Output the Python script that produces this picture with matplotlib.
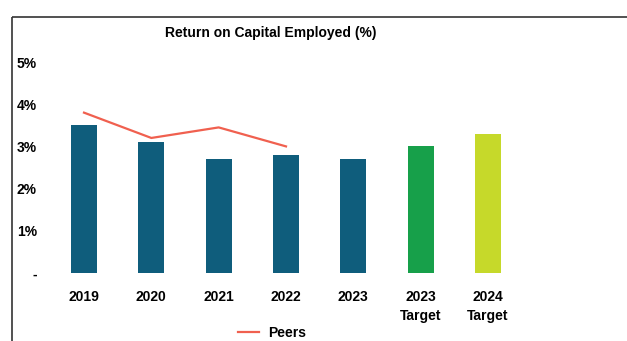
import matplotlib
matplotlib.use("Agg")
import matplotlib.pyplot as plt
from matplotlib.lines import Line2D

categories = ["2019", "2020", "2021", "2022", "2023", "2023\nTarget", "2024\nTarget"]
roce = [3.5, 3.1, 2.7, 2.8, 2.7, 3.0, 3.3]
peers = [3.8, 3.2, 3.45, 3.0]
bar_colors = ["#0f5d7c", "#0f5d7c", "#0f5d7c", "#0f5d7c", "#0f5d7c", "#17a04a", "#c6d92a"]
yticks = [0, 1, 2, 3, 4, 5]
ytick_labels = ["-", "1%", "2%", "3%", "4%", "5%"]

W, H, DPI = 627, 341, 100
plt.rcParams["font.family"] = ["Liberation Sans", "DejaVu Sans"]
plt.rcParams["font.weight"] = "bold"
FS = 10

fig = plt.figure(figsize=(W / DPI, H / DPI), dpi=DPI)
fig.patch.set_facecolor("white")

# plot area in pixels
left_px, right_px, bottom_px, top_px = 48, 522, 273, 50
ax = fig.add_axes([left_px / W, 1 - bottom_px / H,
                   (right_px - left_px) / W, (bottom_px - top_px) / H])

x = list(range(len(categories)))
ax.bar(x, roce, width=0.39, color=bar_colors, zorder=2)
ax.plot(range(len(peers)), peers, color="#f0604f", lw=1.6, zorder=3, label="Peers")

step = (488 - 84) / 6
ax.set_xlim(-(84 - left_px) / step, 6 + (right_px - 488) / step)
ax.set_ylim(0, (bottom_px - top_px) / 42.2)

ax.set_xticks(x)
ax.set_xticklabels(categories, fontsize=FS, fontweight="bold", linespacing=1.45)
ax.set_yticks(yticks)
ax.set_yticklabels(ytick_labels, fontsize=FS, fontweight="bold")
ax.tick_params(axis="x", length=0, pad=12)
ax.tick_params(axis="y", length=0, pad=8)
for s in ax.spines.values():
    s.set_visible(False)

fig.text(271 / W, 1 - 33 / H, "Return on Capital Employed (%)",
         ha="center", va="center", fontsize=FS, fontweight="bold")

fig.legend(loc="center", bbox_to_anchor=(272 / W, 1 - 333 / H), frameon=False,
           fontsize=FS, handlelength=1.5, handletextpad=0.7)

# outer frame (top and left edges)
frame_kw = dict(color="#333333", lw=1.2, transform=fig.transFigure,
                solid_capstyle="butt")
fig.add_artist(Line2D([12 / W, 1.02], [1 - 16.5 / H, 1 - 16.5 / H], **frame_kw))
fig.add_artist(Line2D([12 / W, 12 / W], [-0.02, 1 - 16.5 / H], **frame_kw))

fig.savefig("out.png", dpi=DPI)
